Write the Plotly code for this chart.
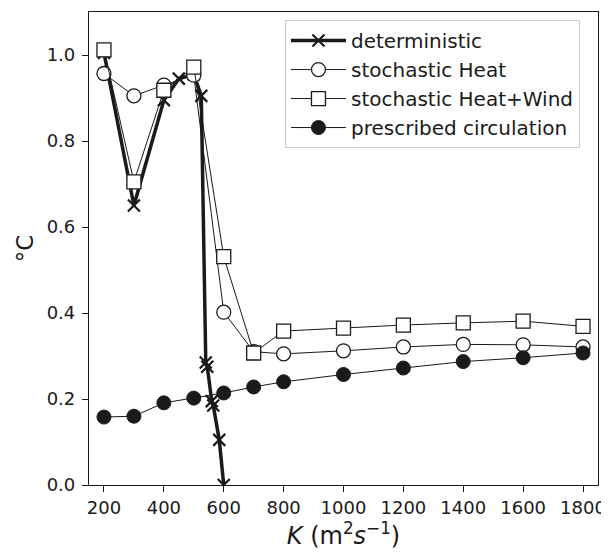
import plotly.graph_objects as go

# ---- data ----
k_det = [200, 300, 400, 450, 500, 525, 540, 545, 560, 565, 585, 600]
det = [1.005, 0.65, 0.895, 0.945, 0.955, 0.905, 0.285, 0.275, 0.195, 0.185, 0.105, 0.0]

k = [200, 300, 400, 500, 600, 700, 800, 1000, 1200, 1400, 1600, 1800]
stoch_heat = [0.957, 0.905, 0.93, 0.953, 0.402, 0.31, 0.305, 0.312, 0.321, 0.327, 0.326, 0.321]
stoch_hw = [1.012, 0.705, 0.918, 0.972, 0.531, 0.307, 0.358, 0.365, 0.372, 0.377, 0.381, 0.369]
prescribed = [0.158, 0.16, 0.191, 0.202, 0.214, 0.228, 0.24, 0.257, 0.272, 0.287, 0.296, 0.307]

x_ticks = [200, 400, 600, 800, 1000, 1200, 1400, 1600, 1800]
y_ticks = [0.0, 0.2, 0.4, 0.6, 0.8, 1.0]

INK = "#1a1a1a"
FONT = "DejaVu Sans"

fig = go.Figure()
fig.add_trace(go.Scatter(
    x=k_det, y=det, name="deterministic", mode="lines+markers",
    line=dict(color=INK, width=3.5),
    marker=dict(symbol="x-thin", size=12, color=INK, line=dict(width=2.2, color=INK)),
    legendgroup="a"))
fig.add_trace(go.Scatter(
    x=k, y=stoch_heat, name="stochastic Heat", mode="lines+markers",
    line=dict(color=INK, width=1),
    marker=dict(symbol="circle", size=14, color="white", line=dict(width=1.3, color=INK)),
    legendgroup="b"))
fig.add_trace(go.Scatter(
    x=k, y=stoch_hw, name="stochastic Heat+Wind", mode="lines+markers",
    line=dict(color=INK, width=1),
    marker=dict(symbol="square", size=14, color="white", line=dict(width=1.3, color=INK)),
    legendgroup="c"))
fig.add_trace(go.Scatter(
    x=k, y=prescribed, name="prescribed circulation", mode="lines+markers",
    line=dict(color=INK, width=1),
    marker=dict(symbol="circle", size=14, color=INK, line=dict(width=1, color=INK)),
    legendgroup="d"))

axis_common = dict(
    showline=True, linecolor=INK, linewidth=1.2, mirror=True,
    ticks="outside", ticklen=6, tickwidth=1.2, tickcolor=INK,
    showgrid=False, zeroline=False,
    tickfont=dict(family=FONT, size=18, color=INK),
)

# page body has an 8px margin: shrink the figure so the plot area lands where the reference has it
fig.update_layout(
    width=601, height=544,
    margin=dict(l=81, r=11, t=4, b=67),
    paper_bgcolor="white", plot_bgcolor="white",
    font=dict(family=FONT, color=INK),
    xaxis=dict(range=[150, 1850], tickvals=x_ticks,
               title=dict(text="<i>K</i> (m<sup>2</sup><i>s</i><sup>−1</sup>)",
                          font=dict(family=FONT, size=24, color=INK), standoff=8),
               **axis_common),
    yaxis=dict(range=[0, 1.1], tickvals=y_ticks, tickformat=".1f", ticklabelstandoff=3,
               title=dict(text="°C", font=dict(family=FONT, size=23, color=INK), standoff=6),
               **axis_common),
    legend=dict(x=0.385, y=0.983, xanchor="left", yanchor="top",
                bordercolor="#cccccc", borderwidth=1, bgcolor="rgba(255,255,255,0.85)",
                font=dict(family=FONT, size=20, color=INK),
                traceorder="grouped", tracegroupgap=0, itemwidth=55),
    showlegend=True,
)

fig.write_html("out.html")
